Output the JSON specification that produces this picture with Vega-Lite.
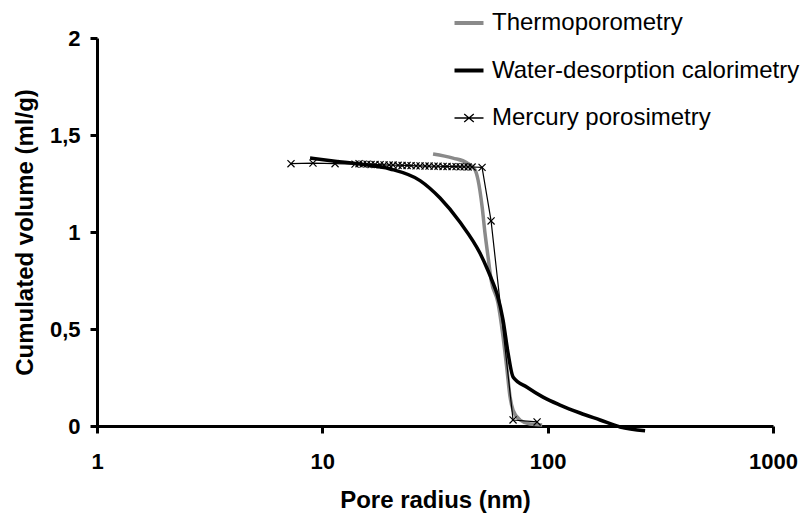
{
  "$schema": "https://vega.github.io/schema/vega-lite/v6.json",
  "width": 676,
  "height": 388,
  "autosize": "none",
  "padding": {"left": 97, "top": 38, "right": 29, "bottom": 89},
  "background": "white",
  "config": {
    "view": {"stroke": null},
    "font": "Liberation Sans",
    "axis": {"grid": false, "domainColor": "black", "tickColor": "black", "domainWidth": 3, "tickWidth": 3, "tickSize": 7, "labelColor": "black", "titleColor": "black", "labelFont": "Liberation Sans", "titleFont": "Liberation Sans", "labelFontWeight": "bold", "titleFontWeight": "bold", "labelFontSize": 22, "titleFontSize": 24}
  },
  "datasets": {
    "thermo": [
      {"r": 31.0, "v": 1.402}, {"r": 38.0, "v": 1.381}, {"r": 43.9, "v": 1.356}, {"r": 47.6, "v": 1.32},
      {"r": 49.1, "v": 1.268}, {"r": 51.2, "v": 1.129}, {"r": 52.7, "v": 0.995}, {"r": 54.4, "v": 0.871},
      {"r": 56.1, "v": 0.753}, {"r": 60.2, "v": 0.634}, {"r": 63.4, "v": 0.459}, {"r": 66.0, "v": 0.289},
      {"r": 68.1, "v": 0.149}, {"r": 70.2, "v": 0.082}, {"r": 75.4, "v": 0.031}, {"r": 83.5, "v": 0.01},
      {"r": 94.5, "v": 0.005}
    ],
    "water": [
      {"r": 8.82, "v": 1.381}, {"r": 11.39, "v": 1.365}, {"r": 14.7, "v": 1.35}, {"r": 19.98, "v": 1.325},
      {"r": 27.14, "v": 1.265}, {"r": 33.3, "v": 1.175}, {"r": 40.86, "v": 1.05}, {"r": 50.12, "v": 0.89},
      {"r": 54.38, "v": 0.8}, {"r": 56.65, "v": 0.75}, {"r": 59.62, "v": 0.68}, {"r": 63.39, "v": 0.546},
      {"r": 66.72, "v": 0.376}, {"r": 70.21, "v": 0.253}, {"r": 81.0, "v": 0.2}, {"r": 95.4, "v": 0.149},
      {"r": 113.5, "v": 0.108}, {"r": 139.3, "v": 0.067}, {"r": 170.9, "v": 0.031}, {"r": 209.6, "v": -0.005},
      {"r": 270.6, "v": -0.025}
    ],
    "mercury": [
      {"r": 7.26, "v": 1.352}, {"r": 9.09, "v": 1.355}, {"r": 11.39, "v": 1.352}, {"r": 13.97, "v": 1.35},
      {"r": 14.55, "v": 1.352}, {"r": 15.16, "v": 1.35}, {"r": 15.79, "v": 1.35}, {"r": 16.45, "v": 1.348},
      {"r": 17.13, "v": 1.348}, {"r": 18.04, "v": 1.347}, {"r": 18.79, "v": 1.346}, {"r": 19.78, "v": 1.345},
      {"r": 20.6, "v": 1.345}, {"r": 21.68, "v": 1.344}, {"r": 22.59, "v": 1.343}, {"r": 23.77, "v": 1.343},
      {"r": 24.76, "v": 1.342}, {"r": 26.06, "v": 1.341}, {"r": 27.14, "v": 1.341}, {"r": 28.56, "v": 1.34},
      {"r": 29.76, "v": 1.34}, {"r": 31.32, "v": 1.339}, {"r": 32.62, "v": 1.339}, {"r": 34.34, "v": 1.338},
      {"r": 35.77, "v": 1.338}, {"r": 37.64, "v": 1.337}, {"r": 39.21, "v": 1.337}, {"r": 40.86, "v": 1.336},
      {"r": 42.56, "v": 1.336}, {"r": 44.34, "v": 1.335}, {"r": 46.18, "v": 1.335}, {"r": 51.15, "v": 1.333},
      {"r": 56.09, "v": 1.057}, {"r": 70.21, "v": 0.031}, {"r": 89.74, "v": 0.021}
    ]
  },
  "encoding": {
    "x": {
      "field": "r", "type": "quantitative",
      "scale": {"type": "log", "domain": [1, 1000], "nice": false},
      "axis": {"values": [1, 10, 100, 1000], "format": "d", "title": "Pore radius (nm)", "labelPadding": 18, "titlePadding": 16, "labelFlush": false}
    },
    "y": {
      "field": "v", "type": "quantitative",
      "scale": {"domain": [0, 2], "nice": false},
      "axis": {"values": [0, 0.5, 1, 1.5, 2], "labelExpr": "replace(toString(datum.value), '.', ',')", "title": "Cumulated volume (ml/g)", "labelPadding": 10, "titlePadding": 12}
    },
    "color": {
      "field": "series", "type": "nominal",
      "scale": {"domain": ["Thermoporometry", "Water-desorption calorimetry", "Mercury porosimetry"], "range": ["#8a8a8a", "#000000", "#000000"]},
      "legend": {
        "title": null, "orient": "none", "legendX": 360, "legendY": -27, "padding": 0,
        "labelFont": "Liberation Sans", "labelFontSize": 24, "labelColor": "black", "labelFontWeight": "normal",
        "symbolSize": 841, "symbolType": "M-1,0L1,0", "labelOffset": 11, "rowPadding": 23.5, "labelLimit": 400,
        "encode": {
          "symbols": {
            "update": {
              "shape": {"signal": "datum.value === 'Mercury porosimetry' ? 'M-1,0L1,0M-0.33,-0.28L0.33,0.28M-0.33,0.28L0.33,-0.28' : 'M-1,0L1,0'"},
              "strokeWidth": {"signal": "datum.value === 'Mercury porosimetry' ? 1.3 : 4"},
              "fill": {"value": "transparent"},
              "opacity": {"value": 1}
            }
          }
        }
      }
    }
  },
  "layer": [
    {
      "data": {"name": "thermo"},
      "transform": [{"calculate": "'Thermoporometry'", "as": "series"}],
      "mark": {"type": "line", "interpolate": "monotone", "strokeWidth": 3.5}
    },
    {
      "data": {"name": "water"},
      "transform": [{"calculate": "'Water-desorption calorimetry'", "as": "series"}],
      "mark": {"type": "line", "interpolate": "monotone", "strokeWidth": 3.5}
    },
    {
      "data": {"name": "mercury"},
      "transform": [{"calculate": "'Mercury porosimetry'", "as": "series"}],
      "mark": {"type": "line", "strokeWidth": 1.2}
    },
    {
      "data": {"name": "mercury"},
      "transform": [{"calculate": "'Mercury porosimetry'", "as": "series"}],
      "mark": {"type": "point", "shape": "M-1,-1L1,1M-1,1L1,-1", "filled": false, "size": 50, "strokeWidth": 1.2, "opacity": 1}
    }
  ]
}
